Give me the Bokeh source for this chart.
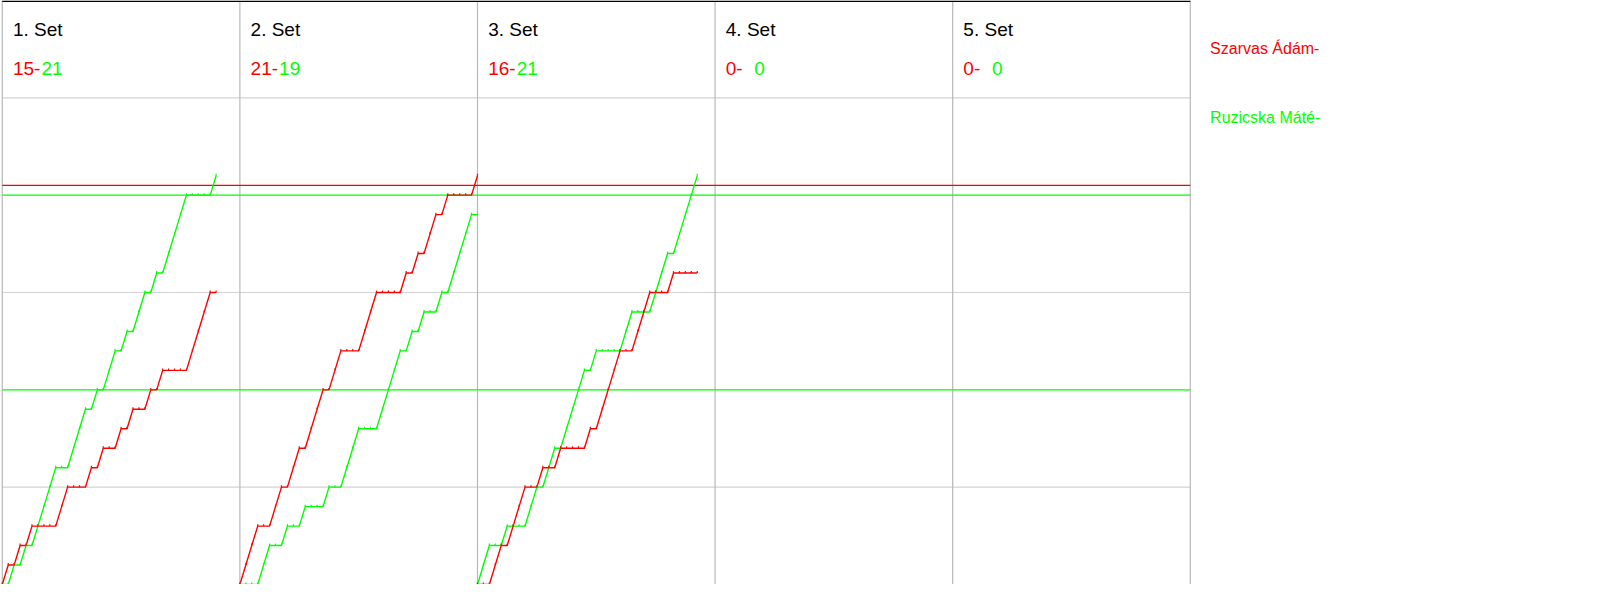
from bokeh.plotting import figure
from bokeh.models import Range1d
from bokeh.core.properties import value
from bokeh.embed import file_html
from bokeh.resources import INLINE

# ---------------- data ----------------
set_labels = ["1. Set", "2. Set", "3. Set", "4. Set", "5. Set"]
red_final = [15, 21, 16, 0, 0]
green_final = [21, 19, 21, 0, 0]
red_name = "Szarvas Ádám-"
green_name = "Ruzicska Máté-"

# running score after each rally (index 0 = 0-0)
red_set1 = [0, 1, 1, 2, 2, 3, 3, 3, 3, 3, 4, 5, 5, 5, 5, 6, 6, 7, 7, 7,
            8, 8, 9, 9, 9, 10, 10, 11, 11, 11, 11, 11, 12, 13, 14, 15, 15]
green_set1 = [0, 0, 1, 1, 2, 2, 3, 4, 5, 6, 6, 6, 7, 8, 9, 9, 10, 10, 11, 12,
              12, 13, 13, 14, 15, 15, 16, 16, 17, 18, 19, 20, 20, 20, 20, 20, 21]
red_set2 = [0, 1, 2, 3, 3, 3, 4, 5, 5, 6, 7, 7, 8, 9, 10, 10, 11, 12, 12, 12,
            12, 13, 14, 15, 15, 15, 15, 15, 16, 16, 17, 17, 18, 19, 19, 20, 20, 20, 20, 20, 21]
green_set2 = [0, 0, 0, 0, 1, 2, 2, 2, 3, 3, 3, 4, 4, 4, 4, 5, 5, 5, 6, 7,
              8, 8, 8, 8, 9, 10, 11, 12, 12, 13, 13, 14, 14, 14, 15, 15, 16, 17, 18, 19, 19]
red_set3 = [0, 0, 0, 1, 2, 2, 3, 4, 5, 5, 5, 6, 6, 6, 7, 7, 7, 7, 7, 8,
            8, 9, 10, 11, 12, 12, 12, 13, 14, 15, 15, 15, 15, 16, 16, 16, 16, 16]
green_set3 = [0, 1, 2, 2, 2, 3, 3, 3, 3, 4, 5, 5, 6, 7, 7, 8, 9, 10, 11, 11,
              12, 12, 12, 12, 12, 13, 14, 14, 14, 14, 15, 16, 17, 17, 18, 19, 20, 21]
red_sets = [red_set1, red_set2, red_set3]
green_sets = [green_set1, green_set2, green_set3]

rallies_per_panel = 40
score_max = 30
grid_levels = [0, 5, 15, 25]
green_ref_levels = [10, 20]
red_ref_level = 20.5

RED = "#ff0000"
GREEN = "#00ff00"
FONT = value("Liberation Sans")

n_panels = len(set_labels)
x_end = n_panels * rallies_per_panel
px_per_rally = 6.0
total_units = 1600 / px_per_rally

p = figure(width=1584, height=584, output_backend="svg", toolbar_location=None,
           x_range=Range1d(-0.3, total_units - 0.3), y_range=Range1d(0, score_max),
           min_border=0, outline_line_color=None)
p.axis.visible = False
p.grid.visible = False
p.background_fill_color = "white"

# horizontal gray grid
for lv in grid_levels:
    p.line([0, x_end], [lv, lv], line_color="#d3d3d3", line_width=1.2)
# panel separators
for k in range(n_panels + 1):
    xb = k * rallies_per_panel
    p.line([xb, xb], [0, score_max], line_color="#b8b8b8", line_width=1.2)
# top border
p.line([0, x_end], [score_max - 0.04, score_max - 0.04], line_color="black", line_width=1.5)

# reference lines
for lv in green_ref_levels:
    p.line([0, x_end], [lv, lv], line_color=GREEN, line_width=1.3)
p.line([0, x_end], [red_ref_level, red_ref_level], line_color=RED, line_width=1.3)

# score progression
for k, (rs, gs) in enumerate(zip(red_sets, green_sets)):
    off = k * rallies_per_panel
    xs_r = [off + i for i in range(len(rs))]
    xs_g = [off + i for i in range(len(gs))]
    p.line(xs_g, gs, line_color=GREEN, line_width=1.4)
    p.line(xs_r, rs, line_color=RED, line_width=1.4)
    p.segment(x0=xs_g, y0=gs, x1=xs_g, y1=[v + 0.1 for v in gs], line_color=GREEN, line_width=1.2)
    p.segment(x0=xs_r, y0=rs, x1=xs_r, y1=[v + 0.1 for v in rs], line_color=RED, line_width=1.2)

# headers
title_x = [k * rallies_per_panel + 1.8 for k in range(n_panels)]
green_x = [k * rallies_per_panel + 6.6 for k in range(n_panels)]
p.text(x=title_x, y=[28.5] * n_panels, text=set_labels, text_font=FONT,
       text_font_size="19px", text_color="black", text_baseline="alphabetic")
p.text(x=title_x, y=[26.5] * n_panels, text=[f"{v}-" for v in red_final], text_font=FONT,
       text_font_size="19px", text_color=RED, text_baseline="alphabetic")
p.text(x=green_x, y=[26.5] * n_panels, text=[f"{v}" for v in green_final], text_font=FONT,
       text_font_size="19px", text_color=GREEN, text_baseline="alphabetic")

# legend
leg_x = 1220 / px_per_rally
p.text(x=[leg_x], y=[27.55], text=[red_name], text_font=FONT, text_font_size="16px",
       text_color=RED, text_baseline="alphabetic")
p.text(x=[leg_x], y=[24.0], text=[green_name], text_font=FONT, text_font_size="16px",
       text_color=GREEN, text_baseline="alphabetic")

open("out.html", "w").write(file_html(p, INLINE))
